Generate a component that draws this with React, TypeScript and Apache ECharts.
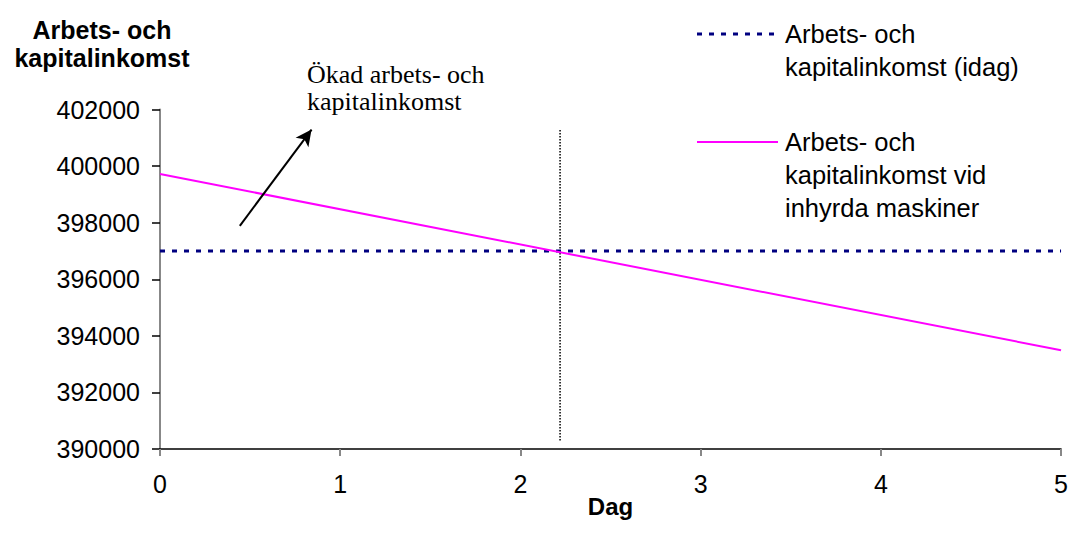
import React, { useEffect, useRef } from "react";
import * as echarts from "echarts";

// Days along the x axis and income in SEK
const days = [0, 5];
const incomeToday = [397000, 397000];
const incomeRented = [399720, 393490];

// Break-even marker and the annotation arrow (data coordinates)
const breakEvenDay = 2.22;
const breakEvenSpan = [390300, 401330];
const arrowStart = [0.443, 397890];
const arrowEnd = [0.841, 401290];

const xTicks = { min: 0, max: 5, interval: 1 };
const yTicks = { min: 390000, max: 402000, interval: 2000 };

const seriesNames = [
  "Arbets- och\nkapitalinkomst (idag)",
  "Arbets- och\nkapitalinkomst vid\ninhyrda maskiner",
];
const yTitle = "Arbets- och\nkapitalinkomst";
const xTitle = "Dag";
const note = "Ökad arbets- och\nkapitalinkomst";

const NAVY = "#000080";
const PINK = "#FF00FF";
const SANS = "'Liberation Sans', Arial, sans-serif";
const SERIF = "'Liberation Serif', 'Times New Roman', serif";

export default function App() {
  const ref = useRef<HTMLDivElement>(null);

  useEffect(() => {
    if (!ref.current) return;
    const chart = echarts.init(ref.current, undefined, { renderer: "svg" });

    const legendEntry = (i: number, y: number, color: string, width: number, type: any) => [
      {
        type: "line",
        shape: { x1: 697, y1: y, x2: 778, y2: y },
        style: { stroke: color, lineWidth: width, lineDash: type },
      },
      {
        type: "text",
        x: 785,
        y: y - 16.5,
        style: {
          text: seriesNames[i],
          font: `25.5px ${SANS}`,
          fill: "#000",
          lineHeight: 33,
          verticalAlign: "top",
          textAlign: "left",
        },
      },
    ];

    chart.setOption({
      animation: false,
      backgroundColor: "#fff",
      grid: { left: 160, right: 9, top: 109.5, bottom: 96, containLabel: false },
      xAxis: {
        type: "value",
        ...xTicks,
        name: xTitle,
        nameLocation: "middle",
        nameGap: 45,
        nameMoveOverlap: false,
        nameTextStyle: { fontFamily: SANS, fontSize: 24, fontWeight: "bold", color: "#000" },
        axisLine: { show: true, onZero: false, lineStyle: { color: "#000", width: 1.5 } },
        axisTick: { show: true, length: 7, lineStyle: { color: "#888", width: 2 } },
        axisLabel: { fontFamily: SANS, fontSize: 25, color: "#000", margin: 22 },
        splitLine: { show: false },
      },
      yAxis: {
        type: "value",
        ...yTicks,
        axisLine: { show: true, onZero: false, lineStyle: { color: "#888", width: 2 } },
        axisTick: { show: true, length: 8, lineStyle: { color: "#000", width: 1.5 } },
        axisLabel: {
          fontFamily: SANS,
          fontSize: 25,
          color: "#000",
          margin: 20,
          formatter: (v: number) => String(v),
        },
        splitLine: { show: false },
      },
      series: [
        {
          name: seriesNames[0],
          type: "line",
          data: days.map((d, i) => [d, incomeToday[i]]),
          symbol: "none",
          lineStyle: { color: NAVY, width: 3, type: [5, 7] },
          z: 3,
        },
        {
          name: seriesNames[1],
          type: "line",
          data: days.map((d, i) => [d, incomeRented[i]]),
          symbol: "none",
          lineStyle: { color: PINK, width: 2 },
          z: 4,
        },
        {
          name: "break-even",
          type: "line",
          data: breakEvenSpan.map((v) => [breakEvenDay, v]),
          symbol: "none",
          silent: true,
          lineStyle: { color: "#000", width: 1.5, type: [1.5, 1.5] },
          z: 2,
          markLine: {
            silent: true,
            symbol: ["none", "arrow"],
            symbolSize: [12, 16],
            label: { show: false },
            lineStyle: { color: "#000", width: 2, type: "solid" },
            data: [[{ coord: arrowStart }, { coord: arrowEnd }]],
          },
        },
      ],
      graphic: [
        {
          type: "text",
          x: 102,
          y: 16,
          style: {
            text: yTitle,
            font: `bold 25px ${SANS}`,
            fill: "#000",
            lineHeight: 28,
            textAlign: "center",
            verticalAlign: "top",
          },
        },
        {
          type: "text",
          x: 307,
          y: 61,
          style: {
            text: note,
            font: `26px ${SERIF}`,
            fill: "#000",
            lineHeight: 27,
            textAlign: "left",
            verticalAlign: "top",
          },
        },
        ...legendEntry(0, 34, NAVY, 3, [5, 7]),
        ...legendEntry(1, 142, PINK, 2, null),
      ],
    });

    return () => chart.dispose();
  }, []);

  return (
    <div
      ref={ref}
      style={{ position: "fixed", left: 0, top: 0, width: 1071, height: 545, background: "#fff" }}
    />
  );
}
